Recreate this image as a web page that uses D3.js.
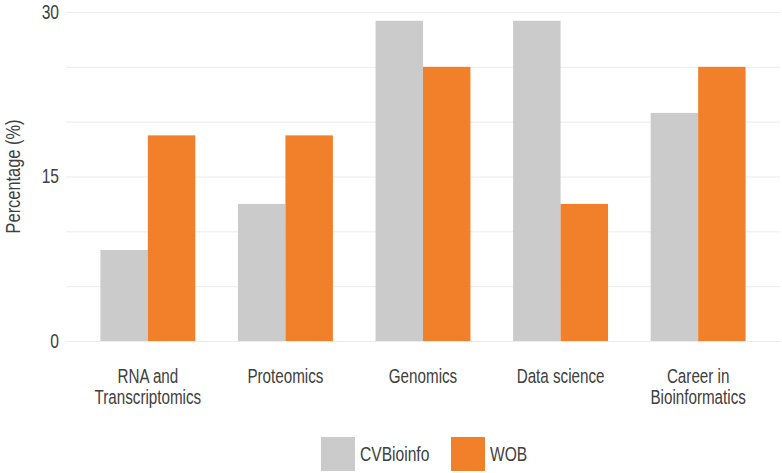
<!DOCTYPE html>
<html>
<head>
<meta charset="utf-8">
<script src="https://cdn.jsdelivr.net/npm/d3@7"></script>
<style>
  body { margin: 0; background: #fff; }
  text { font-family: "Liberation Sans", Arial, sans-serif; fill: #404040; }
</style>
</head>
<body>
<svg id="chart" width="782" height="473"></svg>
<script>
// topics and their two-line labels
var categories = ["RNA and Transcriptomics", "Proteomics", "Genomics", "Data science", "Career in Bioinformatics"];
var categoryLines = [["RNA and", "Transcriptomics"], ["Proteomics"], ["Genomics"], ["Data science"], ["Career in", "Bioinformatics"]];
var seriesNames = ["CVBioinfo", "WOB"];
var cvbioinfo = [8.3, 12.5, 29.2, 29.2, 20.8];
var wob = [18.75, 18.75, 25, 12.5, 25];
var yTicks = [0, 15, 30];
var gridTicks = [0, 5, 10, 15, 20, 25, 30];

var colors = ["#cbcbcb", "#f2802a"];
var squeeze = 0.78; // the source font is a condensed sans, narrower than Liberation Sans

var svg = d3.select("#chart");
var mLeft = 66, mRight = 780, mTop = 12, mBottom = 341;

var x = d3.scaleBand()
    .domain(categories)
    .range([mLeft, mRight])
    .paddingInner(0.31)
    .paddingOuter(0.25);

var xSub = d3.scaleBand()
    .domain(seriesNames)
    .range([0, x.bandwidth()]);

var y = d3.scaleLinear()
    .domain([0, 30])
    .range([mBottom, mTop]);

// grid lines
svg.append("g")
    .selectAll("line")
    .data(gridTicks)
    .enter().append("line")
    .attr("x1", mLeft)
    .attr("x2", mRight)
    .attr("y1", d => y(d) + 0.5)
    .attr("y2", d => y(d) + 0.5)
    .attr("stroke", "#ececec")
    .attr("stroke-width", 1);

// bars
var rows = categories.map((c, i) => ({cat: c, vals: [cvbioinfo[i], wob[i]]}));
var groups = svg.append("g")
    .selectAll("g")
    .data(rows)
    .enter().append("g")
    .attr("transform", d => "translate(" + x(d.cat) + ",0)");

groups.selectAll("rect")
    .data(d => d.vals.map((v, j) => ({name: seriesNames[j], v: v, j: j})))
    .enter().append("rect")
    .attr("x", d => xSub(d.name))
    .attr("width", xSub.bandwidth())
    .attr("y", d => y(d.v))
    .attr("height", d => y(0) - y(d.v))
    .attr("fill", d => colors[d.j]);

// y tick labels
var yAxis = d3.axisLeft(y).tickValues(yTicks).tickSize(0).tickPadding(0);
var ya = svg.append("g")
    .attr("transform", "translate(" + (mLeft - 7) + ",0)")
    .call(yAxis);
ya.select(".domain").remove();
ya.selectAll("text")
    .attr("x", null)
    .attr("transform", "scale(" + squeeze + ",1)")
    .style("font-size", "20px")
    .attr("fill", "#404040")
    .style("font-family", null);

// x labels
var xl = svg.append("g");
categories.forEach(function (c, i) {
    var t = xl.append("g")
        .attr("transform", "translate(" + (x(c) + x.bandwidth() / 2) + ",383) scale(" + squeeze + ",1)")
        .append("text")
        .attr("text-anchor", "middle")
        .style("font-size", "19.5px");
    categoryLines[i].forEach(function (line, k) {
        t.append("tspan")
            .attr("x", 0)
            .attr("dy", k === 0 ? 0 : 21)
            .text(line);
    });
});

// y axis title
svg.append("text")
    .attr("transform", "translate(20," + y(15) + ") rotate(-90) scale(" + squeeze + ",1)")
    .attr("text-anchor", "middle")
    .style("font-size", "21px")
    .text("Percentage (%)");

// legend
var legendX = [321, 451];
var legend = svg.append("g")
    .selectAll("g")
    .data(seriesNames)
    .enter().append("g")
    .attr("transform", (d, i) => "translate(" + legendX[i] + ",437)");
legend.append("rect")
    .attr("width", 34)
    .attr("height", 34)
    .attr("fill", (d, i) => colors[i]);
legend.append("text")
    .attr("transform", "translate(39,24) scale(" + squeeze + ",1)")
    .style("font-size", "20px")
    .text(d => d);
</script>
</body>
</html>
